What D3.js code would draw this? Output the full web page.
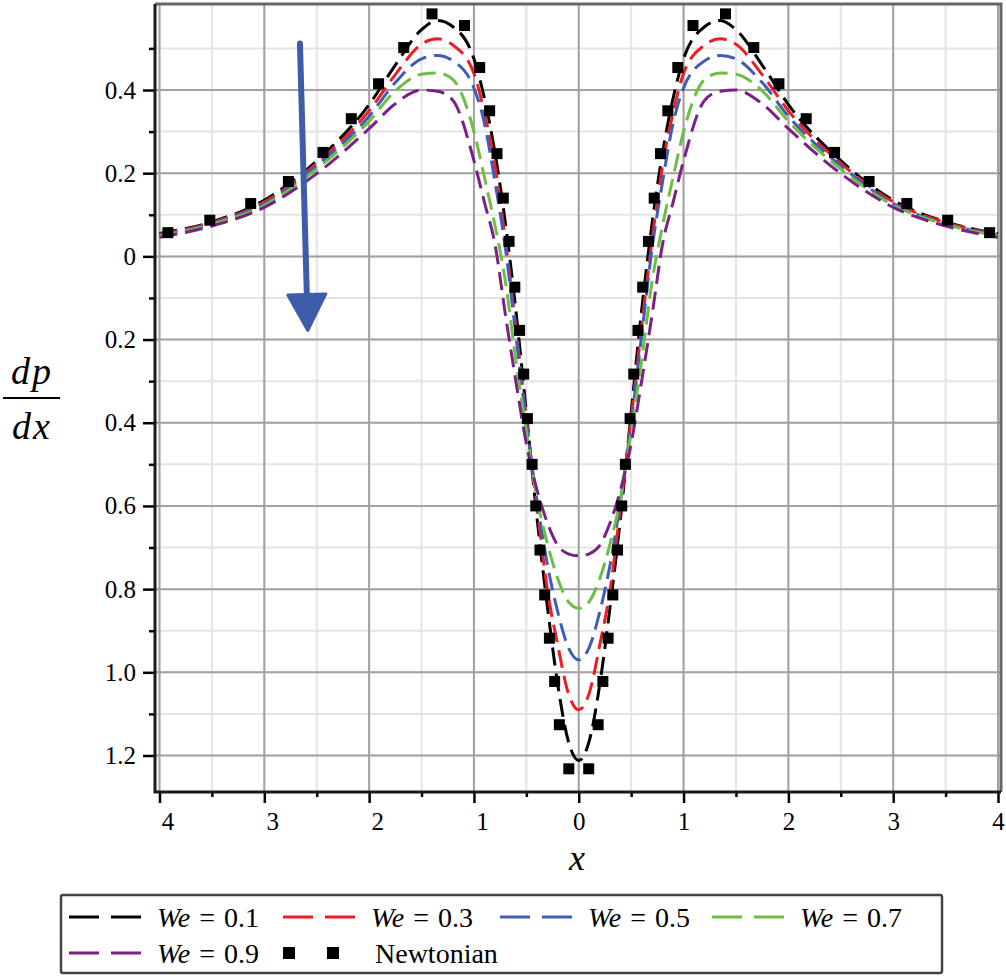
<!DOCTYPE html>
<html>
<head>
<meta charset="utf-8">
<script src="https://cdn.jsdelivr.net/npm/d3@7"></script>
<style>
body { margin: 0; background: #fff; }
svg text { font-family: "Liberation Serif", "Times New Roman", serif; fill: #000; }
</style>
</head>
<body>
<script>
//x positions shared by the dashed curves
var xGrid = [-4, -3.5, -3, -2.5, -2, -1.75, -1.5, -1.35, -1.2, -1, -0.9, -0.8, -0.7, -0.6, -0.5, -0.4, -0.3, -0.2, -0.1,
  0, 0.1, 0.2, 0.3, 0.4, 0.5, 0.6, 0.7, 0.8, 0.9, 1, 1.2, 1.35, 1.5, 1.75, 2, 2.5, 3, 3.5, 4];

//dp/dx for each Weissenberg number
var we01 = [0.055, 0.083, 0.135, 0.230, 0.365, 0.460, 0.545, 0.567, 0.552, 0.475, 0.380, 0.250, 0.080, -0.130, -0.375, -0.625, -0.840, -1.030, -1.165,
  -1.212, -1.165, -1.030, -0.840, -0.625, -0.375, -0.130, 0.080, 0.250, 0.380, 0.475, 0.552, 0.567, 0.545, 0.460, 0.365, 0.230, 0.135, 0.083, 0.055];
var we03 = [0.053, 0.081, 0.131, 0.224, 0.350, 0.437, 0.510, 0.523, 0.508, 0.440, 0.345, 0.220, 0.040, -0.170, -0.390, -0.600, -0.800, -0.935, -1.050,
  -1.090, -1.050, -0.935, -0.800, -0.600, -0.390, -0.170, 0.040, 0.220, 0.345, 0.440, 0.508, 0.523, 0.510, 0.437, 0.350, 0.224, 0.131, 0.081, 0.053];
var we05 = [0.051, 0.079, 0.127, 0.218, 0.337, 0.418, 0.475, 0.483, 0.470, 0.405, 0.320, 0.180, 0.020, -0.190, -0.400, -0.585, -0.740, -0.855, -0.940,
  -0.970, -0.940, -0.855, -0.740, -0.585, -0.400, -0.190, 0.020, 0.180, 0.320, 0.405, 0.470, 0.483, 0.475, 0.418, 0.337, 0.218, 0.127, 0.079, 0.051];
var we07 = [0.049, 0.077, 0.123, 0.210, 0.325, 0.398, 0.438, 0.441, 0.425, 0.300, 0.190, 0.075, -0.060, -0.250, -0.420, -0.580, -0.690, -0.775, -0.830,
  -0.846, -0.830, -0.775, -0.690, -0.580, -0.420, -0.250, -0.060, 0.075, 0.190, 0.300, 0.425, 0.441, 0.438, 0.398, 0.325, 0.210, 0.123, 0.077, 0.049];
var we09 = [0.046, 0.073, 0.118, 0.199, 0.307, 0.367, 0.400, 0.397, 0.375, 0.230, 0.130, 0.030, -0.140, -0.300, -0.450, -0.560, -0.640, -0.695, -0.715,
  -0.720, -0.715, -0.695, -0.640, -0.560, -0.450, -0.300, -0.140, 0.030, 0.130, 0.230, 0.375, 0.397, 0.400, 0.367, 0.307, 0.199, 0.118, 0.073, 0.046];

//Newtonian points
var newtonX = [-3.92, -3.52, -3.13, -2.77, -2.44, -2.17, -1.91, -1.67, -1.40, -1.09, -0.945, -0.85, -0.78, -0.72, -0.665, -0.61, -0.565, -0.525, -0.49, -0.445, -0.41, -0.37, -0.325, -0.28, -0.23, -0.185, -0.095,
  0.095, 0.185, 0.23, 0.28, 0.325, 0.37, 0.41, 0.445, 0.49, 0.525, 0.565, 0.61, 0.665, 0.72, 0.78, 0.85, 0.945, 1.09, 1.40, 1.67, 1.91, 2.17, 2.44, 2.77, 3.13, 3.52, 3.92];
var newtonY = [0.057, 0.087, 0.127, 0.180, 0.250, 0.331, 0.415, 0.502, 0.583, 0.555, 0.454, 0.350, 0.247, 0.140, 0.036, -0.074, -0.178, -0.283, -0.390, -0.500, -0.600, -0.706, -0.814, -0.918, -1.022, -1.126, -1.232,
  -1.232, -1.126, -1.022, -0.918, -0.814, -0.706, -0.600, -0.500, -0.390, -0.283, -0.178, -0.074, 0.036, 0.140, 0.247, 0.350, 0.454, 0.555, 0.583, 0.502, 0.415, 0.331, 0.250, 0.180, 0.127, 0.087, 0.057];

var weLabels = ["0.1", "0.3", "0.5", "0.7", "0.9"];
var weColors = ["#000000", "#ee1d25", "#3e5cb8", "#6dbe45", "#7b2085"];

//tick labels (printed without minus signs, as in the figure)
var xTicks = [-4, -3, -2, -1, 0, 1, 2, 3, 4];
var xTickLabels = ["4", "3", "2", "1", "0", "1", "2", "3", "4"];
var yTicks = [0.4, 0.2, 0, -0.2, -0.4, -0.6, -0.8, -1.0, -1.2];
var yTickLabels = ["0.4", "0.2", "0", "0.2", "0.4", "0.6", "0.8", "1.0", "1.2"];

var series = [we01, we03, we05, we07, we09];

//SVG size and plot box
var w = 1006, h = 979;
var box = {left: 155, right: 1001, top: 4, bottom: 792};

var scaleX = d3.scaleLinear()
  .domain([-4, 4])
  .range([159.5, 998]);

var scaleY = d3.scaleLinear()
  .domain([-1.2, 0.4])
  .range([755.5, 90]);

var svg = d3.select('body')
  .append('svg')
  .attr('width', w)
  .attr('height', h);

svg.append('rect')
  .attr('width', w)
  .attr('height', h)
  .attr('fill', '#fff');

svg.append('clipPath')
  .attr('id', 'plotclip')
  .append('rect')
  .attr('x', box.left)
  .attr('y', box.top)
  .attr('width', box.right - box.left)
  .attr('height', box.bottom - box.top);

//Grid: light lines at minor steps, darker at major ticks
var grid = svg.append('g');
var minorX = d3.range(-8, 9).map(function (i) { return i / 2; });
var minorY = d3.range(-12, 6).map(function (i) { return i / 10; });

grid.selectAll('.gxm')
  .data(minorX)
  .enter()
  .append('line')
  .attr('x1', function (d) { return scaleX(d); })
  .attr('x2', function (d) { return scaleX(d); })
  .attr('y1', box.top)
  .attr('y2', box.bottom)
  .attr('stroke', '#e4e4e4')
  .attr('stroke-width', 2);

grid.selectAll('.gym')
  .data(minorY)
  .enter()
  .append('line')
  .attr('x1', box.left)
  .attr('x2', box.right)
  .attr('y1', function (d) { return scaleY(d); })
  .attr('y2', function (d) { return scaleY(d); })
  .attr('stroke', '#e4e4e4')
  .attr('stroke-width', 2);

grid.selectAll('.gx')
  .data(xTicks)
  .enter()
  .append('line')
  .attr('x1', function (d) { return scaleX(d); })
  .attr('x2', function (d) { return scaleX(d); })
  .attr('y1', box.top)
  .attr('y2', box.bottom)
  .attr('stroke', '#a2a2a2')
  .attr('stroke-width', 2);

grid.selectAll('.gy')
  .data(yTicks)
  .enter()
  .append('line')
  .attr('x1', box.left)
  .attr('x2', box.right)
  .attr('y1', function (d) { return scaleY(d); })
  .attr('y2', function (d) { return scaleY(d); })
  .attr('stroke', '#a2a2a2')
  .attr('stroke-width', 2);

//Frame (top and right in gray)
svg.append('path')
  .attr('d', 'M' + box.left + ',' + box.top + 'H' + box.right + 'V' + box.bottom)
  .attr('fill', 'none')
  .attr('stroke', '#666')
  .attr('stroke-width', 3);

//Curves
var plot = svg.append('g').attr('clip-path', 'url(#plotclip)');

var line = d3.line()
  .x(function (d, i) { return scaleX(xGrid[i]); })
  .y(function (d) { return scaleY(d); })
  .curve(d3.curveMonotoneX);

plot.selectAll('.curve')
  .data(series)
  .enter()
  .append('path')
  .attr('d', line)
  .attr('fill', 'none')
  .attr('stroke', function (d, i) { return weColors[i]; })
  .attr('stroke-width', 3)
  .attr('stroke-dasharray', '18,8');

plot.selectAll('.newton')
  .data(newtonX)
  .enter()
  .append('rect')
  .attr('x', function (d) { return scaleX(d) - 5.5; })
  .attr('y', function (d, i) { return scaleY(newtonY[i]) - 5.5; })
  .attr('width', 11)
  .attr('height', 11)
  .attr('fill', '#000');

//Axes
var xAxis = svg.append('g')
  .attr('transform', 'translate(0,' + box.bottom + ')')
  .call(d3.axisBottom(scaleX)
    .tickValues(xTicks)
    .tickSize(11)
    .tickFormat(function (d, i) { return xTickLabels[i]; }));
svg.append('g')
  .attr('transform', 'translate(0,' + box.bottom + ')')
  .call(d3.axisBottom(scaleX)
    .tickValues([-3.5, -2.5, -1.5, -0.5, 0.5, 1.5, 2.5, 3.5])
    .tickSize(5)
    .tickFormat(''))
  .call(function (g) { g.select('.domain').remove(); })
  .selectAll('line').attr('stroke', '#000').attr('stroke-width', 2.5);

xAxis.select('.domain').remove();
xAxis.selectAll('line').attr('stroke', '#000').attr('stroke-width', 2.5);
xAxis.selectAll('text')
  .attr('y', 20)
  .attr('dx', function (d) { return d < 0 ? 8 : 0; })
  .attr('font-size', 25);

var yAxis = svg.append('g')
  .attr('transform', 'translate(' + box.left + ',0)')
  .call(d3.axisLeft(scaleY)
    .tickValues(yTicks)
    .tickSize(12)
    .tickPadding(7)
    .tickFormat(function (d, i) { return yTickLabels[i]; }));
svg.append('g')
  .attr('transform', 'translate(' + box.left + ',0)')
  .call(d3.axisLeft(scaleY)
    .tickValues([0.5, 0.3, 0.1, -0.1, -0.3, -0.5, -0.7, -0.9, -1.1])
    .tickSize(6)
    .tickFormat(''))
  .call(function (g) { g.select('.domain').remove(); })
  .selectAll('line').attr('stroke', '#000').attr('stroke-width', 2.5);

yAxis.select('.domain').remove();
yAxis.selectAll('line').attr('stroke', '#000').attr('stroke-width', 2.5);
yAxis.selectAll('text')
  .attr('font-size', 25);

//axis lines on left and bottom
svg.append('path')
  .attr('d', 'M' + box.left + ',' + box.top + 'V' + box.bottom + 'H' + box.right)
  .attr('fill', 'none')
  .attr('stroke', '#1a1a1a')
  .attr('stroke-width', 3);

//Axis titles
svg.append('text')
  .attr('x', 577)
  .attr('y', 870)
  .attr('text-anchor', 'middle')
  .attr('font-size', 36)
  .attr('font-style', 'italic')
  .text('x');

var ylab = svg.append('g').attr('transform', 'translate(32,0)');
ylab.append('text')
  .attr('y', 384)
  .attr('text-anchor', 'middle')
  .attr('font-size', 38)
  .attr('font-style', 'italic')
  .attr('letter-spacing', 2)
  .text('dp');
ylab.append('line')
  .attr('x1', -29)
  .attr('x2', 28)
  .attr('y1', 398)
  .attr('y2', 398)
  .attr('stroke', '#000')
  .attr('stroke-width', 2);
ylab.append('text')
  .attr('y', 439)
  .attr('text-anchor', 'middle')
  .attr('font-size', 38)
  .attr('font-style', 'italic')
  .attr('letter-spacing', 2)
  .text('dx');

//Blue arrow
var arrow = {x1: -2.66, y1: 0.512, x2: -2.585, y2: -0.178};
var ax1 = scaleX(arrow.x1), ay1 = scaleY(arrow.y1);
var ax2 = scaleX(arrow.x2), ay2 = scaleY(arrow.y2);
var len = Math.sqrt((ax2 - ax1) * (ax2 - ax1) + (ay2 - ay1) * (ay2 - ay1));
var ux = (ax2 - ax1) / len, uy = (ay2 - ay1) / len;
var bx = ax2 - ux * 36, by = ay2 - uy * 36;
svg.append('line')
  .attr('x1', ax1)
  .attr('y1', ay1)
  .attr('x2', bx)
  .attr('y2', by)
  .attr('stroke', '#3f5caa')
  .attr('stroke-width', 6)
  .attr('stroke-linecap', 'round');
svg.append('path')
  .attr('d', 'M' + (bx - uy * 19) + ',' + (by + ux * 19) +
    'L' + (bx + uy * 19) + ',' + (by - ux * 19) +
    'L' + ax2 + ',' + ay2 + 'Z')
  .attr('fill', '#3f5caa')
  .attr('stroke', '#3f5caa')
  .attr('stroke-width', 3)
  .attr('stroke-linejoin', 'round');

//Legend
var legend = svg.append('g');
legend.append('rect')
  .attr('x', 61)
  .attr('y', 895)
  .attr('width', 881)
  .attr('height', 78)
  .attr('rx', 2)
  .attr('fill', '#fff')
  .attr('stroke', '#444')
  .attr('stroke-width', 2.5);

var legendPos = [[69, 917], [283, 917], [500, 917], [712, 917], [69, 953]];

var items = legend.selectAll('.item')
  .data(weLabels)
  .enter()
  .append('g')
  .attr('transform', function (d, i) { return 'translate(' + legendPos[i][0] + ',' + legendPos[i][1] + ')'; });

items.append('line')
  .attr('x1', 0)
  .attr('x2', 72)
  .attr('stroke', function (d, i) { return weColors[i]; })
  .attr('stroke-width', 3)
  .attr('stroke-dasharray', '30,12');

var itemText = items.append('text')
  .attr('x', 88)
  .attr('y', 10)
  .attr('font-size', 28)
  .attr('word-spacing', 2);
itemText.append('tspan')
  .attr('font-style', 'italic')
  .text('We');
itemText.append('tspan')
  .text(function (d) { return ' = ' + d; });

var newtonLegend = legend.append('g').attr('transform', 'translate(283,953)');
newtonLegend.selectAll('rect')
  .data([0, 1])
  .enter()
  .append('rect')
  .attr('x', function (d) { return d * 44; })
  .attr('y', -6)
  .attr('width', 12)
  .attr('height', 12)
  .attr('fill', '#000');
newtonLegend.append('text')
  .attr('x', 92)
  .attr('y', 10)
  .attr('font-size', 28)
  .text('Newtonian');
</script>
</body>
</html>
